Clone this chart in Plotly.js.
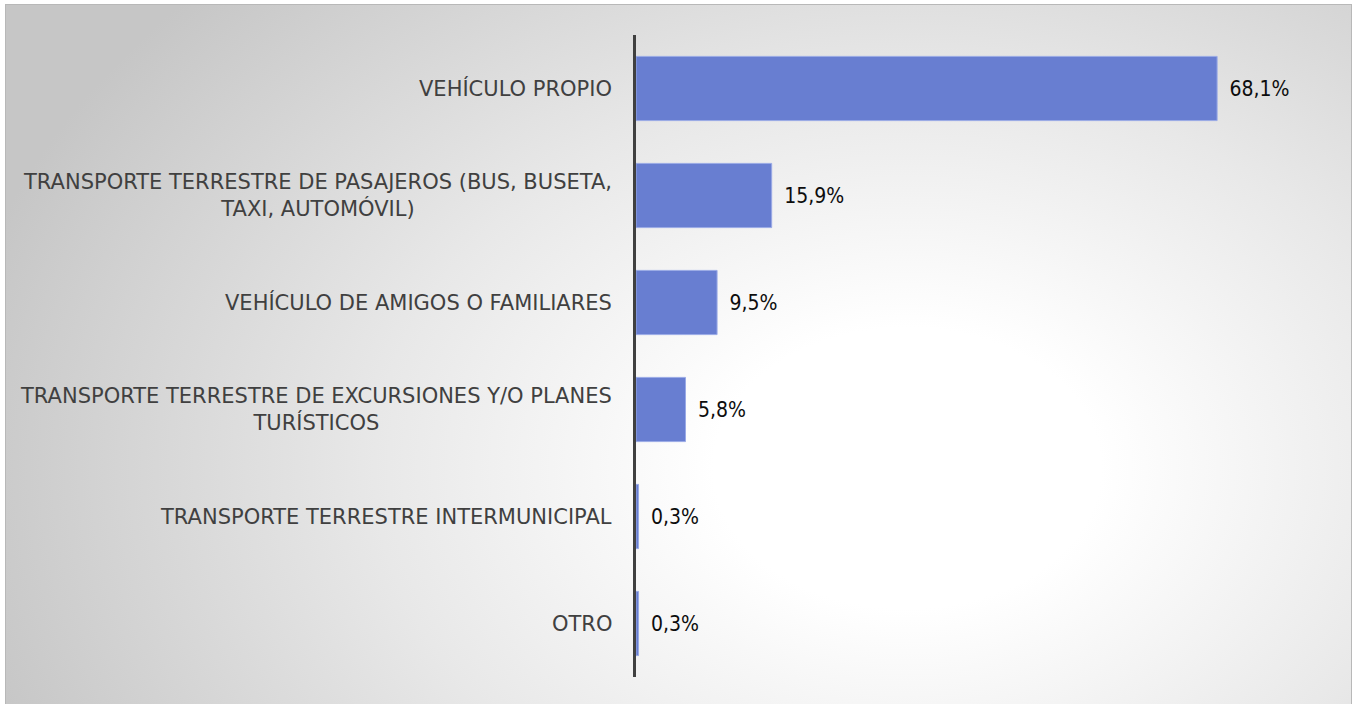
<!DOCTYPE html>
<html>
<head>
<meta charset="utf-8">
<script src="https://cdn.plot.ly/plotly-3.0.1.min.js"></script>
<style>
  html, body { margin: 0; padding: 0; background: #fff; }
  #frame {
    position: absolute; left: 5px; top: 4px; width: 1345px; height: 702px;
    border: 1px solid #b8b8b8;
    background: radial-gradient(ellipse 72% 100% at 67% 66%, #ffffff 0%, #ffffff 20%, #e8e8e8 55%, #c6c6c6 100%);
  }
  #chart { position: absolute; left: -6px; top: -5px; width: 1352px; height: 704px; }
</style>
</head>
<body>
<div id="frame"><div id="chart"></div></div>
<script>
// categories (top to bottom) and shares in %
var categories = [
    "VEHÍCULO PROPIO",
    "TRANSPORTE TERRESTRE DE PASAJEROS (BUS, BUSETA,<br>TAXI, AUTOMÓVIL)",
    "VEHÍCULO DE AMIGOS O FAMILIARES",
    "TRANSPORTE TERRESTRE DE EXCURSIONES Y/O PLANES<br>TURÍSTICOS",
    "TRANSPORTE TERRESTRE INTERMUNICIPAL",
    "OTRO"
];
var values = [68.1, 15.9, 9.5, 5.8, 0.3, 0.3];
var valueLabels = ["68,1%", "15,9%", "9,5%", "5,8%", "0,3%", "0,3%"];

var trace = {
    type: "bar",
    orientation: "h",
    y: categories,
    x: values,
    text: valueLabels,
    texttemplate: "\u2002%{text}",
    textposition: "outside",
    cliponaxis: false,
    textfont: {family: "'DejaVu Sans Condensed', 'DejaVu Sans'", size: 21, color: "#0d0d0d"},
    marker: {color: "#687ed1", line: {color: "#9aaae6", width: 1}},
    hoverinfo: "none"
};

// category labels as centred annotations (Excel centres wrapped labels)
var annotations = categories.map(function (c) {
    return {
        xref: "paper", yref: "y", x: -0.031, y: c,
        text: c, showarrow: false, xanchor: "right", align: "center",
        font: {family: "'DejaVu Sans', Verdana, sans-serif", size: 21, color: "#404040"}
    };
});

var layout = {
    width: 1352,
    height: 704,
    margin: {l: 636, r: 12, t: 35, b: 27},
    paper_bgcolor: "rgba(0,0,0,0)",
    plot_bgcolor: "rgba(0,0,0,0)",
    bargap: 0.4,
    showlegend: false,
    xaxis: {range: [0, 82.5], visible: false, fixedrange: true},
    yaxis: {
        autorange: "reversed",
        showticklabels: false,
        ticks: "",
        showgrid: false,
        zeroline: false,
        showline: true,
        linecolor: "#404040",
        linewidth: 3,
        fixedrange: true
    },
    annotations: annotations
};

Plotly.newPlot("chart", [trace], layout, {displayModeBar: false, staticPlot: true});
</script>
</body>
</html>
